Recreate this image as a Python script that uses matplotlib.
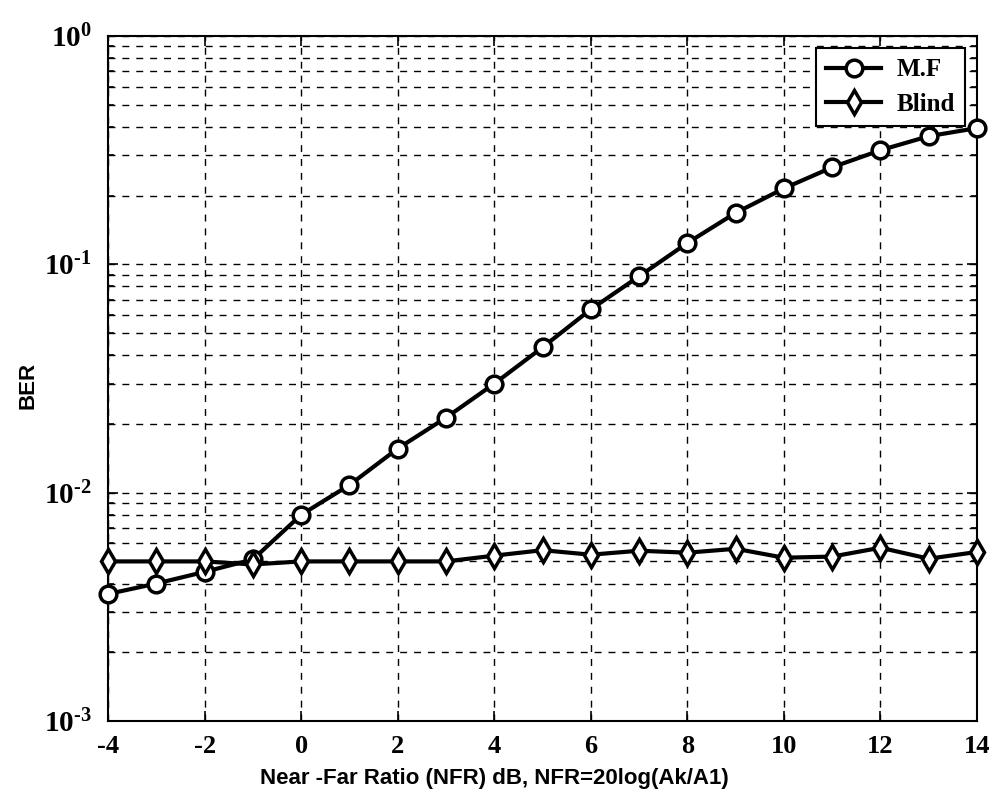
import numpy as np
import matplotlib
matplotlib.use("Agg")
import matplotlib.pyplot as plt
from matplotlib.ticker import LogLocator, FixedLocator, NullFormatter

# Daten
nfr_db = [-4, -3, -2, -1, 0, 1, 2, 3, 4, 5, 6, 7, 8, 9, 10, 11, 12, 13, 14]
ber_mf = [3.6e-3, 4.0e-3, 4.5e-3, 5.1e-3, 8.0e-3, 1.08e-2, 1.56e-2, 2.13e-2, 3.0e-2,
          4.33e-2, 6.35e-2, 8.86e-2, 0.124, 0.168, 0.215, 0.266, 0.316, 0.364, 0.395]
ber_blind = [5.0e-3, 5.0e-3, 5.0e-3, 4.85e-3, 5.0e-3, 5.0e-3, 5.0e-3, 5.0e-3, 5.3e-3,
             5.6e-3, 5.35e-3, 5.57e-3, 5.46e-3, 5.68e-3, 5.19e-3, 5.25e-3, 5.74e-3, 5.14e-3, 5.5e-3]
x_ticks = [-4, -2, 0, 2, 4, 6, 8, 10, 12, 14]
y_ticks = [1e-3, 1e-2, 1e-1, 1e0]
y_tick_labels = [r"$\mathbf{10^{\text{-}3}}$", r"$\mathbf{10^{\text{-}2}}$",
                 r"$\mathbf{10^{\text{-}1}}$", r"$\mathbf{10^{0}}$"]

plt.rcParams['mathtext.fontset'] = 'custom'
plt.rcParams['mathtext.bf'] = 'Liberation Serif:bold'
plt.rcParams['mathtext.rm'] = 'Liberation Serif:bold'
plt.rcParams['axes.unicode_minus'] = False

fig = plt.figure(figsize=(9.92, 7.94), dpi=100)
ax = fig.add_axes([0.1089, 0.0919, 0.876, 0.8628])

ax.plot(nfr_db, ber_mf, color='black', lw=3, marker='o', ms=12,
        mfc='white', mec='black', mew=2.5, label='M.F', zorder=3, clip_on=False)
ax.plot(nfr_db, ber_blind, color='black', lw=3, marker='d', ms=12,
        mfc='white', mec='black', mew=2.5, label='Blind', zorder=3, clip_on=False)

ax.set_yscale('log')
ax.set_xlim(-4, 14)
ax.set_ylim(1e-3, 1)
ax.xaxis.set_major_locator(FixedLocator(x_ticks))
ax.set_xticklabels([str(v) for v in x_ticks], fontfamily='Liberation Serif',
                   fontweight='bold', fontsize=19)
ax.yaxis.set_major_locator(FixedLocator(y_ticks))
ax.set_yticklabels(y_tick_labels, fontsize=21)
ax.yaxis.set_minor_locator(LogLocator(base=10, subs=np.arange(2, 10)))
ax.yaxis.set_minor_formatter(NullFormatter())

# Gitter gestrichelt
ax.grid(True, which='major', axis='both', color='black', ls=(0, (5, 5)), lw=1.0)
ax.grid(True, which='minor', axis='y', color='black', ls=(0, (5, 5)), lw=1.0)

ax.tick_params(which='both', direction='in', top=True, right=True, width=1.2)
ax.tick_params(which='major', length=7, pad=10)
ax.tick_params(which='minor', length=4)
ax.tick_params(axis='y', which='major', pad=12)
for s in ax.spines.values():
    s.set_linewidth(1.5)

ax.set_xlabel('Near -Far Ratio (NFR) dB, NFR=20log(Ak/A1)', fontfamily='Liberation Sans',
              fontweight='bold', fontsize=16)
ax.xaxis.set_label_coords(0.445, -0.068)
ax.set_ylabel('BER', fontfamily='Liberation Sans', fontweight='bold', fontsize=16)
ax.yaxis.set_label_coords(-0.08, 0.49)

leg = ax.legend(loc='upper right', prop={'family': 'Liberation Serif', 'weight': 'bold', 'size': 18},
                fancybox=False, framealpha=1, edgecolor='black', handlelength=2.2,
                borderaxespad=0.5, borderpad=0.4, labelspacing=0.45, handletextpad=0.6)
leg.get_frame().set_linewidth(1.5)

fig.savefig('out.png', dpi=100)
